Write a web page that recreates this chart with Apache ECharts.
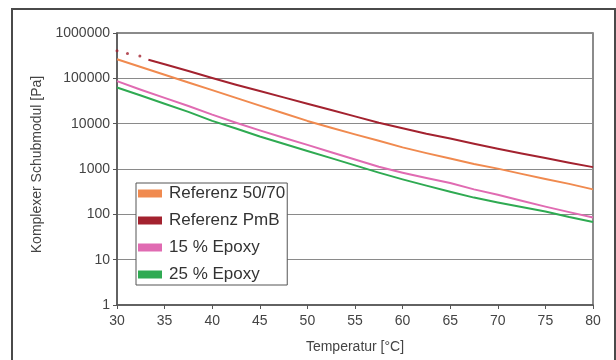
<!DOCTYPE html>
<html>
<head>
<meta charset="utf-8">
<script src="https://cdn.jsdelivr.net/npm/echarts@6/dist/echarts.min.js"></script>
<style>
  html, body { margin: 0; padding: 0; background: #ffffff; }
  #chart { width: 616px; height: 360px; }
</style>
</head>
<body>
<div id="chart"></div>
<script>
// Temperatures [°C] of the sampled points
const temps = [30, 32.5, 35, 37.5, 40, 42.5, 45, 47.5, 50, 52.5, 55, 57.5, 60, 62.5, 65, 67.5, 70, 72.5, 75, 77.5, 80];
const pmbTemps = [33.3, 35, 37.5, 40, 42.5, 45, 47.5, 50, 52.5, 55, 57.5, 60, 62.5, 65, 67.5, 70, 72.5, 75, 77.5, 80];
const pmbDotTemps = [30, 31.1, 32.4];

// Complex shear modulus [Pa]
const ref5070 = [263000, 178000, 120000, 81000, 55000, 37000, 25000, 17000, 11500, 8100, 5800, 4200, 3000, 2240, 1700, 1290, 1020, 780, 600, 470, 355];
const refPmB = [257000, 204000, 145000, 102000, 72400, 52500, 38000, 27500, 20000, 14500, 10500, 7900, 6000, 4700, 3600, 2800, 2200, 1740, 1380, 1100];
const refPmBDots = [407000, 355000, 309000];
const epoxy15 = [87000, 56000, 37000, 24500, 15800, 10500, 7100, 4900, 3400, 2340, 1620, 1120, 830, 630, 490, 355, 270, 200, 148, 112, 85];
const epoxy25 = [63000, 41700, 27500, 18200, 11500, 7800, 5200, 3600, 2500, 1740, 1200, 830, 590, 430, 316, 234, 182, 145, 115, 87, 68];

const seriesNames = ['Referenz 50/70', 'Referenz PmB', '15 % Epoxy', '25 % Epoxy'];
const colors = ['#f08a4f', '#a3222f', '#e06bb2', '#2faa52'];

const pairs = (xs, ys) => xs.map((x, i) => [x, ys[i]]);

const chart = echarts.init(document.getElementById('chart'));

const lineSeries = (name, color, data) => ({
  name: name,
  type: 'line',
  data: data,
  showSymbol: false,
  smooth: false,
  lineStyle: { color: color, width: 2, join: 'round' },
  itemStyle: { color: color },
  z: 3
});

chart.setOption({
  backgroundColor: '#ffffff',
  animation: false,
  textStyle: { fontFamily: 'Liberation Sans, Arial, sans-serif' },
  graphic: [{
    type: 'rect',
    shape: { x: 12, y: 9, width: 603, height: 360 },
    style: { fill: 'none', stroke: '#4a4a4a', lineWidth: 2 },
    silent: true
  }],
  grid: {
    left: 117, top: 33, right: 23, bottom: 55,
    show: true,
    borderColor: '#666666',
    borderWidth: 1.5
  },
  legend: {
    data: seriesNames,
    orient: 'vertical',
    left: 136,
    top: 183,
    itemWidth: 24,
    itemHeight: 8,
    itemGap: 10,
    padding: [2, 2, 2, 2],
    backgroundColor: '#ffffff',
    borderColor: '#555555',
    borderWidth: 1,
    icon: 'rect',
    textStyle: { fontSize: 17, color: '#333333', padding: [0, 0, 0, 2] }
  },
  xAxis: {
    type: 'value',
    min: 30, max: 80, interval: 5,
    name: 'Temperatur [°C]',
    nameLocation: 'middle',
    nameGap: 35,
    nameTextStyle: { fontSize: 14, color: '#444444' },
    axisLine: { lineStyle: { color: '#555555', width: 1.5 } },
    axisTick: { show: true, length: 4, lineStyle: { color: '#555555' } },
    axisLabel: { fontSize: 14, color: '#444444', margin: 9 },
    splitLine: { show: false }
  },
  yAxis: {
    type: 'log',
    logBase: 10,
    min: 1, max: 1000000,
    name: 'Komplexer Schubmodul [Pa]',
    nameLocation: 'middle',
    nameGap: 69,
    nameTextStyle: { fontSize: 14, color: '#444444', padding: [0, 0, 0, 9] },
    axisLine: { show: true, lineStyle: { color: '#555555', width: 1.5 } },
    axisTick: { show: true, length: 4, lineStyle: { color: '#555555' } },
    axisLabel: {
      fontSize: 14, color: '#444444', margin: 7,
      formatter: v => String(Math.round(v))
    },
    splitLine: { show: true, lineStyle: { color: '#8a8a8a', width: 1 } }
  },
  series: [
    lineSeries(seriesNames[0], colors[0], pairs(temps, ref5070)),
    lineSeries(seriesNames[1], colors[1], pairs(pmbTemps, refPmB)),
    lineSeries(seriesNames[2], colors[2], pairs(temps, epoxy15)),
    lineSeries(seriesNames[3], colors[3], pairs(temps, epoxy25)),
    {
      name: 'Referenz PmB Start',
      type: 'scatter',
      data: pairs(pmbDotTemps, refPmBDots),
      symbolSize: 3,
      itemStyle: { color: colors[1] },
      z: 3
    }
  ]
});
</script>
</body>
</html>
